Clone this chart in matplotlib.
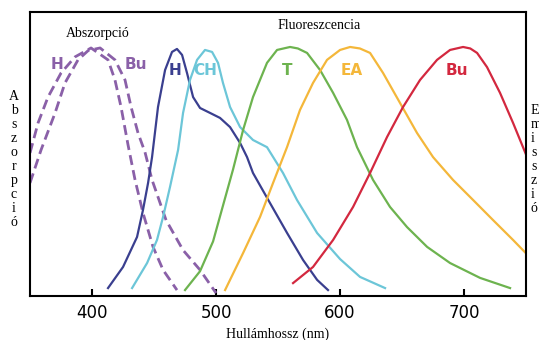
import matplotlib.pyplot as plt

# absorption spectra (dashed)
h_abs_nm = [350, 356.5, 364.5, 375, 386.3, 399.2, 412.9, 418.5, 423.4, 429.0, 434.7, 441.1, 449.2,
            457.3, 468.5]
h_abs = [0.577, 0.698, 0.802, 0.899, 0.964, 1.0, 0.952, 0.871, 0.762, 0.61, 0.468, 0.335, 0.198,
         0.105, 0.024]
bu_abs_nm = [350, 358.9, 370.2, 378.2, 388.7, 397, 406.5, 418.5, 426.6, 431.5, 437.1, 442.7, 448.4,
             459.7, 473.4, 487.1, 500]
bu_abs = [0.456, 0.589, 0.738, 0.859, 0.952, 0.99, 1.0, 0.952, 0.871, 0.762, 0.657, 0.58, 0.468,
          0.306, 0.185, 0.105, 0.012]

# fluorescence spectra
h_nm = [412.9, 425.0, 436.3, 441.1, 445.2, 448.4, 453.2, 458.9, 464.5, 468.5, 472.6, 476.6, 481.5,
        487.1, 495.2, 503.2, 511.3, 519.4, 525.0, 529.8, 543.5, 557.3, 570.2, 581.5, 590.3]
h_em = [0.032, 0.117, 0.238, 0.347, 0.456, 0.56, 0.762, 0.911, 0.984, 0.996, 0.972, 0.899, 0.802,
        0.758, 0.738, 0.718, 0.681, 0.617, 0.56, 0.496, 0.375, 0.254, 0.145, 0.065, 0.024]
ch_nm = [432.3, 444.4, 452.4, 457.3, 462.9, 469.4, 473.4, 479.0, 484.7, 491.1, 496.8, 501.6, 505.6,
         511.3, 519.4, 529.8, 541.1, 554.0, 565.3, 581.5, 600.0, 616.1, 636.3]
ch_em = [0.032, 0.133, 0.226, 0.319, 0.44, 0.589, 0.738, 0.871, 0.952, 0.992, 0.984, 0.94, 0.859,
         0.762, 0.681, 0.629, 0.60, 0.496, 0.387, 0.254, 0.149, 0.077, 0.032]
t_nm = [475.0, 487.1, 497.6, 504.8, 513.7, 521.8, 529.8, 541.1, 549.2, 559.7, 566, 573.4, 583.9,
        594.4, 605.6, 613.7, 626.6, 640.3, 654.0, 670.2, 688.7, 712.9, 737.1]
t_em = [0.024, 0.10, 0.22, 0.35, 0.51, 0.669, 0.802, 0.94, 0.992, 1.004, 0.998, 0.98, 0.911,
        0.819, 0.71, 0.60, 0.468, 0.359, 0.278, 0.198, 0.133, 0.073, 0.032]
ea_nm = [507.3, 521.8, 535.5, 546.0, 557.3, 567.7, 578.2, 589.5, 600.0, 608.1, 616, 624.2, 634.7,
         648.4, 662.1, 675.0, 691.1, 707.3, 723.4, 739.5, 750]
ea_em = [0.024, 0.173, 0.319, 0.456, 0.601, 0.75, 0.859, 0.952, 0.992, 1.004, 0.998, 0.98, 0.899,
         0.778, 0.657, 0.56, 0.468, 0.387, 0.306, 0.226, 0.172]
bu_nm = [562.1, 578.2, 594.4, 610.5, 624.2, 637.9, 650.8, 664.5, 678.2, 688.7, 699.2, 705, 710.5,
         718.5, 729.0, 739.5, 750]
bu_em = [0.052, 0.117, 0.226, 0.359, 0.496, 0.641, 0.762, 0.871, 0.952, 0.992, 1.004, 0.998, 0.98,
         0.923, 0.819, 0.698, 0.57]

purple = '#8a60a8'
navy = '#3a3f8f'
cyan = '#6cc6d8'
green = '#6db34f'
yellow = '#f4b73a'
red = '#d3283f'

fig = plt.figure(figsize=(5.39, 3.4), dpi=100)
ax = fig.add_axes([0.0557, 0.1294, 0.9203, 0.8353])

ax.plot(h_abs_nm, h_abs, color=purple, lw=2, ls=(0, (3.6, 1.9)))
ax.plot(bu_abs_nm, bu_abs, color=purple, lw=2, ls=(0, (3.6, 1.9)))
ax.plot(h_nm, h_em, color=navy, lw=1.6)
ax.plot(ch_nm, ch_em, color=cyan, lw=1.6)
ax.plot(t_nm, t_em, color=green, lw=1.6)
ax.plot(ea_nm, ea_em, color=yellow, lw=1.6)
ax.plot(bu_nm, bu_em, color=red, lw=1.6)

# curve labels
lab = dict(fontsize=11, fontweight='bold', ha='center', va='center')
ax.text(371.8, 0.935, 'H', color=purple, **lab)
ax.text(435.5, 0.935, 'Bu', color=purple, **lab)
ax.text(466.9, 0.911, 'H', color=navy, **lab)
ax.text(491.1, 0.911, 'CH', color=cyan, **lab)
ax.text(557.3, 0.911, 'T', color=green, **lab)
ax.text(609.7, 0.911, 'EA', color=yellow, **lab)
ax.text(694.4, 0.911, 'Bu', color=red, **lab)

serif = 'Liberation Serif'
ax.text(405, 1.06, 'Abszorpció', fontsize=10, family=serif, ha='center', va='center')
ax.text(583, 1.09, 'Fluoreszcencia', fontsize=10, family=serif, ha='center', va='center')
ax.set_xlabel('Hullámhossz (nm)', fontsize=10, family=serif, labelpad=4)

fig.text(0.026, 0.53, '\n'.join('Abszorpció'), fontsize=10, family=serif,
         ha='center', va='center', linespacing=1.1)
fig.text(0.985, 0.53, '\n'.join('Emisszió'), fontsize=10, family=serif,
         ha='left', va='center', linespacing=1.1)

ax.set_xlim(350, 750)
ax.set_ylim(0, 1.145)
ax.set_xticks([400, 500, 600, 700])
ax.set_yticks([])
ax.tick_params(axis='x', direction='in', length=5, width=1.5, labelsize=12, pad=6)
for s in ax.spines.values():
    s.set_linewidth(1.5)

fig.savefig('out.png', dpi=100)
